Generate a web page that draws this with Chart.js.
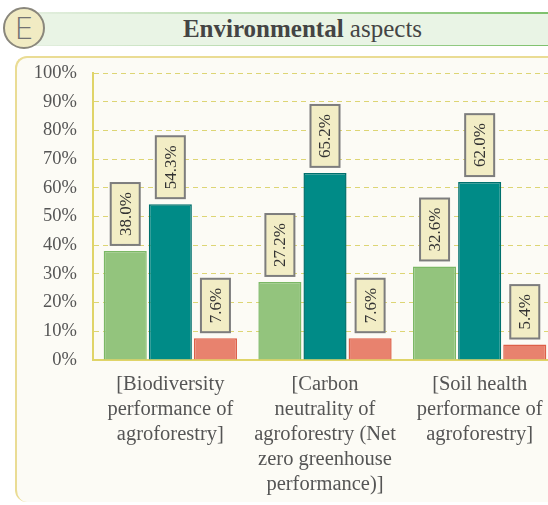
<!DOCTYPE html>
<html>
<head>
<meta charset="utf-8">
<script src="https://cdn.jsdelivr.net/npm/chart.js@4.4.1/dist/chart.umd.min.js"></script>
<style>
  html, body { margin: 0; padding: 0; width: 548px; height: 505px; overflow: hidden; background: #fff; }
  .band { position: absolute; left: 30px; top: 12px; width: 530px; height: 31px;
    background: #e9f4e5; border-top: 2px solid; border-image: linear-gradient(to right, #e4efe0, #7cc06a) 1;
    border-bottom: 1px solid #e2ece0; }
  .title { position: absolute; left: 30px; top: 12px; width: 545px; height: 33px; line-height: 33px; text-align: center;
    font-family: "Liberation Serif", serif; font-size: 25px; color: #444; }
  .badge { position: absolute; left: 3px; top: 7px; width: 38px; height: 38px; border-radius: 50%;
    background: #f1ebc3; border: 2px solid #8a877c; text-align: center; line-height: 39px;
    font-family: "DejaVu Sans", sans-serif; font-weight: 300; font-size: 31px; color: #727272; }
  .panel { position: absolute; left: 15px; top: 56px; width: 560px; height: 444px; border-radius: 12px;
    background: #fcfbf5; border-left: 2px solid #eadc94; border-top: 2px solid #eadc94; }
  .wrap { position: absolute; left: 0; top: 0; width: 557px; height: 505px; }
</style>
</head>
<body>
<div class="band"></div>
<div class="title"><b>Environmental</b> aspects</div>
<div class="badge">E</div>
<div class="panel"></div>
<div class="wrap"><canvas id="c"></canvas></div>
<script>
const categories = [
  ['[Biodiversity', 'performance of', 'agroforestry]'],
  ['[Carbon', 'neutrality of', 'agroforestry (Net', 'zero greenhouse', 'performance)]'],
  ['[Soil health', 'performance of', 'agroforestry]']
];
const seriesA = [38.0, 27.2, 32.6];
const seriesB = [54.3, 65.2, 62.0];
const seriesC = [7.6, 7.6, 5.4];
const yTicks = [0, 10, 20, 30, 40, 50, 60, 70, 80, 90, 100];

const serif = '"Liberation Serif", "Times New Roman", serif';

const boxLabels = {
  id: 'boxLabels',
  afterDatasetsDraw(chart) {
    const ctx = chart.ctx;
    ctx.save();
    ctx.font = '17px ' + serif;
    chart.data.datasets.forEach((ds, i) => {
      const meta = chart.getDatasetMeta(i);
      meta.data.forEach((bar, j) => {
        const text = ds.data[j].toFixed(1) + '%';
        const tw = ctx.measureText(text).width;
        const h = tw + 18, w = 29;
        const bottom = bar.y - 6;
        const x = bar.x - w / 2, y = bottom - h;
        ctx.fillStyle = '#f2edc5';
        ctx.fillRect(x, y, w, h);
        ctx.strokeStyle = '#7d7d7d';
        ctx.lineWidth = 2;
        ctx.strokeRect(x, y, w, h);
        ctx.save();
        ctx.translate(bar.x, bottom - h / 2);
        ctx.rotate(-Math.PI / 2);
        ctx.fillStyle = '#333';
        ctx.textAlign = 'center';
        ctx.textBaseline = 'middle';
        ctx.fillText(text, 0, 1);
        ctx.restore();
      });
    });
    ctx.restore();
  }
};

new Chart(document.getElementById('c'), {
  type: 'bar',
  data: {
    labels: categories,
    datasets: [
      { data: seriesA, backgroundColor: '#93c47d', borderColor: '#7bb865', borderWidth: 1.5 },
      { data: seriesB, backgroundColor: '#008b87', borderColor: '#00706d', borderWidth: 1.5 },
      { data: seriesC, backgroundColor: '#e8826e', borderColor: '#dd5f48', borderWidth: 1.5 }
    ]
  },
  options: {
    responsive: true,
    maintainAspectRatio: false,
    animation: false,
    datasets: { bar: { categoryPercentage: 0.875, barPercentage: 0.955 } },
    layout: { padding: { top: 73, left: 0, right: 0, bottom: 0 } },
    plugins: { legend: { display: false }, tooltip: { enabled: false } },
    scales: {
      x: {
        grid: { display: false },
        border: { display: true, color: '#e0d468', width: 2 },
        ticks: {
          color: '#555', padding: 4, maxRotation: 0, autoSkip: false,
          font: { family: serif, size: 20.5, lineHeight: 1.22 }
        },
        afterFit(scale) { scale.height = 145; }
      },
      y: {
        min: 0, max: 100,
        afterBuildTicks(scale) { scale.ticks = yTicks.map(v => ({ value: v })); },
        grid: { color: '#ddd574', lineWidth: 1, drawTicks: false },
        border: { display: true, color: '#e0d468', width: 2, dash: [5, 4] },
        ticks: {
          color: '#555', padding: 16,
          font: { family: serif, size: 18.5 },
          callback: v => v + '%'
        },
        afterFit(scale) { scale.width = 93; }
      }
    }
  },
  plugins: [boxLabels]
});
</script>
</body>
</html>
